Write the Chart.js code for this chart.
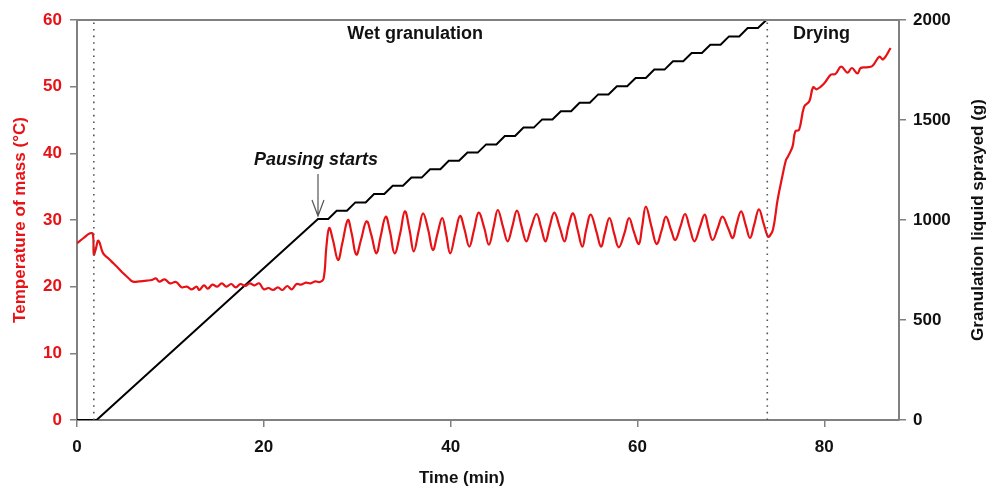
<!DOCTYPE html>
<html>
<head>
<meta charset="utf-8">
<script src="https://cdn.jsdelivr.net/npm/chart.js@4.4.1/dist/chart.umd.min.js"></script>
<style>
  html,body{margin:0;padding:0;background:#fff}
</style>
</head>
<body>
<canvas id="chart" width="988" height="486"></canvas>
<script>
/* ---- data ---- */
// temperature of mass (left axis)
const timeT = [0,0.7,1.4,1.7,1.8,2.0,2.3,2.8,3.4,3.9,4.4,4.95,5.5,6.0,6.7,7.45,8.0,8.45,8.8,9.4,9.95,10.6,11.2,11.75,12.3,12.8,13.1,13.6,14.0,14.5,15.0,15.5,16.0,16.5,17.0,17.5,18.0,18.5,19.0,19.5,20.0,20.5,21.0,21.5,22.0,22.5,23.0,23.5,24.0,24.5,25.0,25.5,26.0,26.4,26.7,27.0,27.4,27.95,28.4,29.0,29.4,29.9,30.4,31.0,31.5,32.05,32.5,33.05,33.5,34.0,34.6,35.1,35.6,36.05,36.6,37.05,37.6,38.1,38.6,39.1,39.5,39.95,40.5,41.0,41.5,42.0,42.5,43.0,43.6,44.1,44.6,45.05,45.6,46.1,46.6,47.1,47.6,48.1,48.6,49.2,49.7,50.15,50.6,51.1,51.7,52.2,52.6,53.1,53.6,54.1,54.5,55.0,55.6,56.1,56.5,57.0,57.5,58.0,58.6,59.1,59.6,60.15,60.5,60.9,61.5,62.05,62.6,63.05,63.6,64.05,64.6,65.1,65.6,66.1,66.7,67.2,67.6,68.05,68.6,69.1,69.7,70.2,70.6,71.1,71.6,72.05,72.5,73.0,73.5,73.95,74.1,74.5,75.0,75.5,75.9,76.1,76.6,76.9,77.3,77.85,78.4,78.8,79.2,80.0,80.7,81.2,81.8,82.5,82.95,83.55,83.9,84.5,85.15,85.9,86.3,87.1];
const tempT = [26.5,27.3,28.0,27.9,24.8,25.6,26.9,25.0,24.2,23.5,22.8,22.0,21.3,20.75,20.8,20.9,21.0,21.25,20.75,21.1,20.5,20.7,19.9,20.0,19.6,20.0,19.5,20.2,19.7,20.3,20.0,20.5,20.0,20.4,19.9,20.4,20.1,20.5,20.2,20.5,19.6,19.8,19.5,19.9,19.5,20.1,19.6,20.4,20.3,20.6,20.5,20.8,20.7,21.2,26.0,28.8,27.0,24.0,26.5,30.0,28.0,24.8,27.0,29.8,27.8,25.0,27.5,30.5,28.3,25.0,28.0,31.3,28.5,25.3,28.5,31.0,28.5,25.5,28.0,30.3,28.0,25.0,28.0,30.6,28.5,26.0,28.5,31.1,28.8,26.3,29.0,31.5,29.0,26.8,29.0,31.4,29.0,26.8,28.8,30.9,28.8,26.8,29.0,31.1,28.8,26.8,29.0,31.0,28.5,26.0,28.5,30.8,28.3,26.0,28.0,30.3,28.0,25.9,28.0,30.3,28.3,26.4,29.0,32.0,29.0,26.4,28.5,30.5,28.5,27.0,29.0,30.9,28.8,26.8,29.0,30.8,28.8,27.0,28.8,30.5,28.8,27.3,29.3,31.3,29.2,27.3,29.3,31.6,29.5,27.5,27.5,28.5,33.0,36.5,39.0,39.5,41.0,43.3,43.5,47.0,47.8,49.9,49.6,50.5,51.8,51.9,53.0,52.1,52.8,52.0,52.8,52.9,53.1,54.5,54.1,55.8];

// granulation liquid sprayed (right axis)
const timeB = [0,2.1,25.8,26.9,27.8,28.9,29.8,30.9,31.8,32.9,33.8,34.9,35.8,36.9,37.8,38.9,39.8,40.9,41.8,42.9,43.8,44.9,45.8,46.9,47.8,48.9,49.8,50.9,51.8,52.9,53.8,54.9,55.8,56.9,57.8,58.9,59.8,60.9,61.8,62.9,63.8,64.9,65.8,66.9,67.8,68.9,69.8,70.9,71.8,72.9,73.8];
const sprayed = [0,0,1005,1005,1046,1046,1088,1088,1130,1130,1171,1171,1212,1212,1254,1254,1296,1296,1337,1337,1378,1378,1420,1420,1462,1462,1503,1503,1544,1544,1586,1586,1628,1628,1669,1669,1710,1710,1752,1752,1794,1794,1835,1835,1876,1876,1918,1918,1960,1960,2000];

// phase boundaries and labels
const phaseLines  = [1.8, 73.9];
const phaseLabels = ['Wet granulation', 'Drying'];
const phaseLabelX = [36.2, 79.7];
const pauseLabel  = 'Pausing starts';
const pauseAt     = 25.8;   // min
const pauseTip    = 30.6;   // degC (arrow tip)

const xTicks  = [0, 20, 40, 60, 80];

/* ---- build chart ---- */
const RED = 'rgb(232,18,22)';
const GREY = '#808080';
const FONT = "'Liberation Sans', Arial, sans-serif";

const tempData  = timeT.map((t,i)=>({x:t, y:tempT[i]}));
const sprayData = timeB.map((t,i)=>({x:t, y:sprayed[i]}));
const dotSets = phaseLines.map(t=>({
  data:[{x:t,y:0},{x:t,y:60}], yAxisID:'y', borderColor:'#555', borderWidth:1.6,
  borderDash:[1.6,5], pointRadius:0, tension:0
}));

const annot = {
  id:'annot',
  afterDatasetsDraw(chart){
    const {ctx, chartArea:a, scales:{x, y}} = chart;
    ctx.save();
    // top border of the box
    ctx.strokeStyle = GREY; ctx.lineWidth = 2;
    ctx.beginPath(); ctx.moveTo(a.left, a.top); ctx.lineTo(a.right+1, a.top); ctx.stroke();

    ctx.fillStyle = '#111';
    ctx.textAlign = 'center'; ctx.textBaseline = 'middle';
    ctx.font = 'bold 18px ' + FONT;
    phaseLabels.forEach((s,i)=> ctx.fillText(s, x.getPixelForValue(phaseLabelX[i]), a.top + 14));

    // pausing label + arrow
    ctx.font = 'italic bold 18px ' + FONT;
    ctx.fillText(pauseLabel, x.getPixelForValue(pauseAt) - 2, y.getPixelForValue(39.0));
    const px = x.getPixelForValue(pauseAt), tip = y.getPixelForValue(pauseTip);
    ctx.strokeStyle = '#555'; ctx.lineWidth = 1.2;
    ctx.beginPath();
    ctx.moveTo(px, y.getPixelForValue(36.9)); ctx.lineTo(px, tip);
    ctx.moveTo(px-6, tip-16); ctx.lineTo(px, tip); ctx.lineTo(px+6, tip-16);
    ctx.stroke();

    // axis titles
    ctx.fillStyle = '#111';
    ctx.font = 'bold 17px ' + FONT;
    ctx.fillText('Time (min)', x.getPixelForValue(41.2), a.bottom + 58);
    ctx.translate(978, (a.top + a.bottom)/2);
    ctx.rotate(-Math.PI/2);
    ctx.fillText('Granulation liquid sprayed (g)', 0, 0);
    ctx.restore();
  }
};

new Chart(document.getElementById('chart'), {
  type:'line',
  data:{
    datasets:[
      ...dotSets,
      { label:'Temperature', data:tempData, yAxisID:'y', borderColor:RED, borderWidth:2.2,
        pointRadius:0, tension:0.4 },
      { label:'Sprayed', data:sprayData, yAxisID:'y2', borderColor:'#000', borderWidth:2,
        pointRadius:0, tension:0 }
    ]
  },
  options:{
    responsive:false, animation:false,
    layout:{ padding:{ top:20, left:0, right:0, bottom:0 } },
    plugins:{ legend:{display:false}, tooltip:{enabled:false} },
    scales:{
      x:{
        type:'linear', min:0, max:88,
        afterBuildTicks: s => { s.ticks = xTicks.map(v=>({value:v})); },
        afterFit: s => { s.height = 66; },
        grid:{ drawOnChartArea:false, color:GREY, tickLength:7, lineWidth:1.5 },
        border:{ color:GREY, width:2 },
        ticks:{ color:'#111', padding:10, font:{family:FONT, size:17, weight:'bold'} }
      },
      y:{
        position:'left', min:0, max:60,
        afterFit: s => { s.width = 77; },
        grid:{ drawOnChartArea:false, color:GREY, tickLength:7, lineWidth:1.5 },
        border:{ color:GREY, width:2 },
        ticks:{ stepSize:10, color:RED, padding:8, font:{family:FONT, size:17, weight:'bold'} },
        title:{ display:true, text:'Temperature of mass (°C)', color:RED, padding:{top:10, bottom:0},
                font:{family:FONT, size:17, weight:'bold'} }
      },
      y2:{
        position:'right', min:0, max:2000,
        afterFit: s => { s.width = 89; },
        grid:{ drawOnChartArea:false, color:GREY, tickLength:7, lineWidth:1.5 },
        border:{ color:GREY, width:2 },
        ticks:{ stepSize:500, color:'#111', padding:7, callback:v=>String(v),
                font:{family:FONT, size:17, weight:'bold'} }
      }
    }
  },
  plugins:[annot]
});
</script>
</body>
</html>
